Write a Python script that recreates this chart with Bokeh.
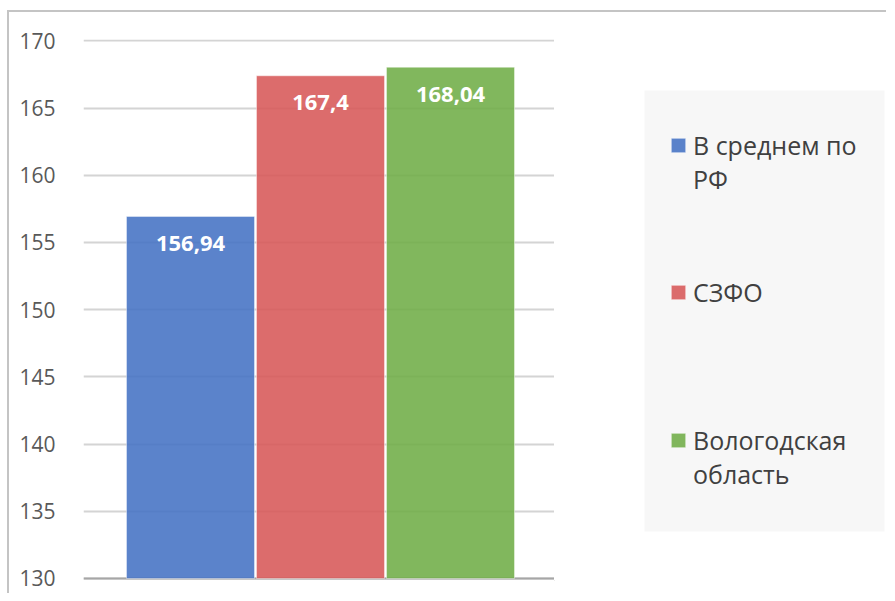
from bokeh.plotting import figure
from bokeh.layouts import row
from bokeh.models import (Range1d, FixedTicker, Legend, LegendItem, Grid,
                          ColumnDataSource, BoxAnnotation)
from bokeh.core.properties import value
from bokeh.embed import file_html
from bokeh.resources import INLINE

# ---- data ----
series_names = ["В среднем по РФ", "СЗФО", "Вологодская область"]
legend_lines = [["В среднем по", "РФ"], ["СЗФО"], ["Вологодская", "область"]]
series_values = [156.94, 167.4, 168.04]
series_labels = ["156,94", "167,4", "168,04"]
series_colors = ["#4472C4", "#D75858", "#70AD47"]
series_pos = list(range(len(series_names)))
y_ticks = [130, 135, 140, 145, 150, 155, 160, 165, 170]
y_base = 130

# ---- chart figure ----
p = figure(width=545, height=581, output_backend="svg", toolbar_location=None,
           x_range=Range1d(-0.823, 2.80), y_range=Range1d(129.85, 170.1),
           min_border_left=74, min_border_right=0,
           min_border_top=27, min_border_bottom=13)
p.outline_line_color = None
p.background_fill_color = "white"
p.border_fill_color = "white"

p.xaxis.visible = False
p.xgrid.visible = False
p.ygrid.grid_line_color = "#d4d4d4"
p.ygrid.grid_line_width = 2
p.yaxis.ticker = FixedTicker(ticks=y_ticks)
p.yaxis.axis_line_color = None
p.yaxis.major_tick_line_color = None
p.yaxis.minor_tick_line_color = None
p.yaxis.major_label_standoff = 22
p.yaxis.major_label_text_font = "Open Sans"
p.yaxis.major_label_text_font_size = "21px"
p.yaxis.major_label_text_color = "#595959"

base = Grid(dimension=1, ticker=FixedTicker(ticks=[y_base]),
            grid_line_color="#a6a6a6", grid_line_width=2)
p.add_layout(base, "center")

src = ColumnDataSource(dict(x=series_pos, top=series_values, lab=series_labels))
for i in series_pos:
    s = ColumnDataSource(dict(x=[series_pos[i]], top=[series_values[i]]))
    p.vbar(x="x", top="top", bottom=y_base, width=0.985, source=s,
           fill_color=series_colors[i], fill_alpha=0.88,
           line_color="white", line_alpha=0.45, line_width=1)
p.text(x="x", y="top", text="lab", source=src,
       text_font=value("Open Sans"), text_font_style="bold",
       text_font_size="22px", text_color="white", text_align="center",
       text_baseline="middle", y_offset=27)

# ---- legend panel (pixel-unit ranges) ----
q = figure(width=332, height=581, output_backend="svg", toolbar_location=None,
           x_range=Range1d(0, 332), y_range=Range1d(0, 541),
           min_border_left=0, min_border_right=0,
           min_border_top=0, min_border_bottom=0)
q.axis.visible = False
q.grid.visible = False
q.outline_line_color = None
q.background_fill_color = "white"
q.border_fill_color = "white"

q.add_layout(BoxAnnotation(left=90, right=330, bottom=49, top=490,
                           fill_color="#f7f7f7", fill_alpha=1.0,
                           line_color=None, level="underlay"))

# legend keys (off-canvas swatches carrying the series colours)
keys = []
for c in series_colors:
    ks = ColumnDataSource(dict(x=[-50], top=[-50]))
    keys.append(q.vbar(x="x", top="top", bottom=-60, width=10, source=ks,
                       fill_color=c, fill_alpha=0.88,
                       line_color="white", line_alpha=0.45, line_width=1))

legend_locs = [(115, 384), (115, 271), (115, 89)]
for lines, r, loc in zip(legend_lines, keys, legend_locs):
    items = [LegendItem(label=lines[0], renderers=[r])]
    items += [LegendItem(label=t, renderers=[]) for t in lines[1:]]
    lg = Legend(items=items, location=loc, padding=0, margin=0, spacing=0,
                glyph_width=18, glyph_height=18, label_standoff=6,
                label_height=32, background_fill_alpha=0.0,
                border_line_color=None, label_text_font="Open Sans",
                label_text_font_size="25px", label_text_color="#404040")
    q.add_layout(lg, "center")

layout = row(p, q)
layout.styles = {"border-left": "2px solid #c4c4c4", "border-top": "2px solid #c4c4c4",
                 "margin-top": "10px", "margin-left": "7px"}

open("out.html", "w").write(file_html(layout, INLINE))
